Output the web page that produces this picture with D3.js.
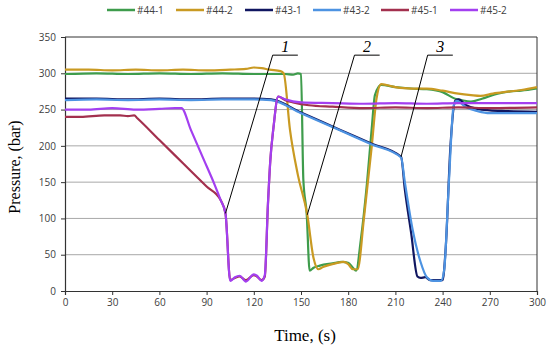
<!DOCTYPE html>
<html>
<head>
<meta charset="utf-8">
<script src="https://cdn.jsdelivr.net/npm/d3@7"></script>
<style>
  body { margin: 0; background: #fff; }
  svg { display: block; }
</style>
</head>
<body>
<div id="chart"></div>
<script>
// series names and their colours (legend order)
var seriesNames = ["#44-1", "#44-2", "#43-1", "#43-2", "#45-1", "#45-2"];
var seriesColors = ["#3e9c4c", "#c99a22", "#101660", "#4d93e2", "#a3304e", "#a33ff0"];

// each series: [time (s), pressure (bar)]
var s44_1 = [[0,299],[20,300],[40,299],[60,300],[80,299],[100,300],[120,299],[140,299],[145,298],[148,300],[150,299],
  [151.5,153],[153.6,107],[155.5,28],[158,32],[162,35],[170,38],[176,40],[180,39],[183,32],[185,28],[188,70],[192,150],
  [195,225],[197,270],[201,284],[210,281],[220,279],[230,278],[240,274],[248,265],[252,263],[258,261],[265,265],
  [275,272],[283,275],[290,276],[300,279]];
var s44_2 = [[0,305],[15,305],[30,304],[45,305],[60,304],[75,305],[90,304],[105,305],[115,306],[120,308],[125,307],
  [130,305],[137,303],[139,300],[143,222],[148,160],[154,105],[158,45],[161,30],[164,33],[170,37],[177,40],[180,37],
  [183,30],[186,30],[190,100],[195,200],[198,265],[201,285],[210,281],[220,279],[230,279],[240,276],[250,272],
  [258,270],[264,269],[272,272],[283,275],[290,277],[300,281]];
var s43_1 = [[0,265],[20,265],[40,264],[60,265],[80,264],[100,265],[120,265],[131,264],[150,246],[175,222],[195,203],
  [213.6,185],[216,140],[220,80],[224,20],[226,18],[229,19],[232,15],[240,15],[242,60],[245,200],[248,262],[250,264],
  [255,256],[262,251],[270,249],[280,248],[300,247]];
var s43_2 = [[0,263],[20,264],[40,263],[60,264],[80,263],[100,264],[120,264],[131,263],[150,245],[175,221],[195,202],
  [213.6,184],[216,150],[221,84],[226,40],[230,19],[234,14],[239,14],[241,29],[244,150],[247,255],[249,262],
  [255,253],[262,248],[270,245],[300,245]];
var s45_1 = [[0,240],[10,240],[25,242],[35,242],[40,241],[44,242],[46,238],[60,208],[75,176],[90,144],[99,125],
  [102,107],[105,15],[108,18],[111,20],[115,15],[120,22],[122,20],[125,15],[127,20],[129,120],[130.5,180],
  [132.5,225],[135.5,268],[140,263],[145,260],[155,256],[170,254],[190,252],[210,253],[230,252],[250,253],
  [270,252],[300,253]];
var s45_2 = [[0,250],[15,250],[30,252],[45,250],[60,251],[70,252],[74,252],[80,222],[88,182],[95,147],[99,125],
  [102,107],[105,14],[108,19],[111,21],[115,13],[120,23],[122,21],[125,14],[127,22],[129,120],[130.5,180],
  [132.5,225],[135.5,268],[140,264],[150,260],[170,259],[190,258],[210,259],[230,258],[250,259],[270,259],[300,259]];
var seriesData = [s44_1, s44_2, s43_1, s43_2, s45_1, s45_2];

// axis ticks
var timeTicks = [0, 30, 60, 90, 120, 150, 180, 210, 240, 270, 300];
var pressureTicks = [0, 50, 100, 150, 200, 250, 300, 350];

// numbered call-outs: label, point (time, bar), elbow (time, bar)
var calloutLabels = ["1", "2", "3"];
var calloutPoints = [[102, 107], [154, 105], [213.6, 185]];
var calloutElbows = [[132, 325], [184, 325], [230.5, 325]];
var calloutShelf = 16; // seconds of horizontal shelf

var width = 550, height = 351;
var margin = {top: 37, right: 13, bottom: 60, left: 65};

var svg = d3.select("#chart").append("svg")
    .attr("width", width)
    .attr("height", height);

var x = d3.scaleLinear().domain([0, 300]).range([margin.left, width - margin.right]);
var y = d3.scaleLinear().domain([0, 350]).range([height - margin.bottom, margin.top]);

var tickFont = "'Open Sans', 'Noto Sans', sans-serif";

// gridlines
svg.append("g")
    .selectAll("line")
    .data(pressureTicks.filter(function (d) { return d > 0 && d < 350; }))
    .enter().append("line")
    .attr("x1", x(0)).attr("x2", x(300))
    .attr("y1", function (d) { return y(d); })
    .attr("y2", function (d) { return y(d); })
    .attr("stroke", "#a8a8a8")
    .attr("stroke-width", 1);

// top and right frame
svg.append("path")
    .attr("d", "M" + x(0) + "," + y(350) + "H" + x(300) + "V" + y(0))
    .attr("fill", "none")
    .attr("stroke", "#333")
    .attr("stroke-width", 1);

// axes
var xAxis = svg.append("g")
    .attr("transform", "translate(0," + y(0) + ")")
    .call(d3.axisBottom(x).tickValues(timeTicks).tickSize(4).tickPadding(4));
var yAxis = svg.append("g")
    .attr("transform", "translate(" + x(0) + ",0)")
    .call(d3.axisLeft(y).tickValues(pressureTicks).tickSize(4).tickPadding(5));

[xAxis, yAxis].forEach(function (ax) {
    ax.select(".domain").attr("stroke", "#333").attr("stroke-width", 1.2);
    ax.selectAll(".tick line").attr("stroke", "#333");
    ax.selectAll(".tick text")
        .attr("fill", "#404040")
        .style("font-family", tickFont)
        .style("font-size", "10px");
});

// series lines
var line = d3.line()
    .x(function (d) { return x(d[0]); })
    .y(function (d) { return y(d[1]); })
    .curve(d3.curveMonotoneX);

svg.append("g")
    .selectAll("path")
    .data(seriesData)
    .enter().append("path")
    .attr("d", line)
    .attr("fill", "none")
    .attr("stroke", function (d, i) { return seriesColors[i]; })
    .attr("stroke-width", 2.2)
    .attr("stroke-linejoin", "round");

// call-outs
var callouts = svg.append("g");
calloutLabels.forEach(function (lab, i) {
    var p = calloutPoints[i], e = calloutElbows[i];
    callouts.append("path")
        .attr("d", "M" + x(p[0]) + "," + y(p[1]) + "L" + x(e[0]) + "," + y(e[1]) +
            "H" + x(e[0] + calloutShelf))
        .attr("fill", "none")
        .attr("stroke", "#000")
        .attr("stroke-width", 1);
    callouts.append("text")
        .attr("x", x(e[0] + calloutShelf / 2))
        .attr("y", y(e[1]) - 3)
        .attr("text-anchor", "middle")
        .style("font-family", "'Liberation Serif', serif")
        .style("font-style", "italic")
        .style("font-size", "16px")
        .text(lab);
});

// legend
var legendX = [107, 176, 245, 313, 381, 450];
var legend = svg.append("g");
seriesNames.forEach(function (name, i) {
    legend.append("line")
        .attr("x1", legendX[i]).attr("x2", legendX[i] + 28)
        .attr("y1", 10).attr("y2", 10)
        .attr("stroke", seriesColors[i])
        .attr("stroke-width", 2.5);
    legend.append("text")
        .attr("x", legendX[i] + 30)
        .attr("y", 13.5)
        .attr("fill", "#404040")
        .style("font-family", tickFont)
        .style("font-size", "10px")
        .text(name);
});

// axis titles
svg.append("text")
    .attr("x", x(150) + 4)
    .attr("y", 341)
    .attr("text-anchor", "middle")
    .style("font-family", "'Liberation Serif', serif")
    .style("font-size", "17px")
    .text("Time, (s)");

svg.append("text")
    .attr("transform", "translate(20," + (y(175) + 3) + ") rotate(-90)")
    .attr("text-anchor", "middle")
    .style("font-family", "'Liberation Serif', serif")
    .style("font-size", "16px")
    .text("Pressure, (bar)");
</script>
</body>
</html>
